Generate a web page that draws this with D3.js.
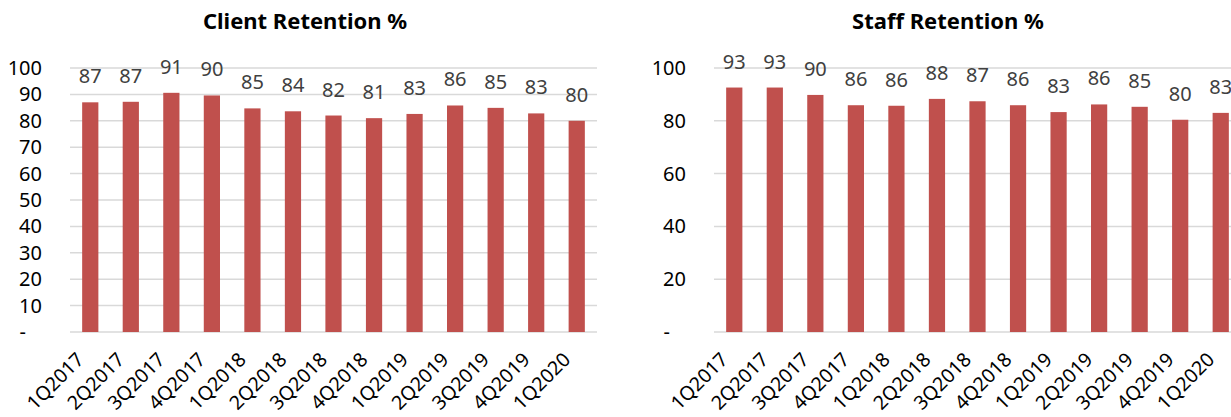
<!DOCTYPE html>
<html><head><meta charset="utf-8">
<script src="https://cdn.jsdelivr.net/npm/d3@7"></script>
<style>
body{margin:0;background:#fff;}
svg{display:block;font-family:"Noto Sans",sans-serif;}
</style></head>
<body><svg id="c" width="1231" height="417"></svg>
<script>
const categories = ["1Q2017","2Q2017","3Q2017","4Q2017","1Q2018","2Q2018","3Q2018","4Q2018","1Q2019","2Q2019","3Q2019","4Q2019","1Q2020"];
const clientRetention = [87.0, 87.2, 90.6, 89.6, 84.7, 83.6, 82.0, 81.0, 82.6, 85.8, 84.9, 82.8, 80.0];
const staffRetention = [92.6, 92.6, 89.8, 85.9, 85.7, 88.3, 87.4, 85.9, 83.3, 86.2, 85.3, 80.4, 83.0];
const clientTicks = [0,10,20,30,40,50,60,70,80,90,100];
const staffTicks = [0,20,40,60,80,100];

const svg = d3.select("#c");
const fmt = d3.format(".0f");

function drawChart(opt){
  const g = svg.append("g");
  const x = d3.scaleBand().domain(categories).range([opt.x0, opt.x0 + 527]).paddingInner(0.6).paddingOuter(0.3);
  const y = d3.scaleLinear().domain([0,100]).range([332, 68]);

  g.append("text").attr("x", opt.titleX).attr("y", 29).attr("text-anchor","middle")
    .attr("font-size", 22).attr("font-weight","bold").attr("fill","#000").text(opt.title);

  // gridlines
  g.selectAll("line.grid").data(opt.ticks).join("line")
    .attr("x1", opt.x0).attr("x2", opt.x0 + 527)
    .attr("y1", d => y(d)).attr("y2", d => y(d))
    .attr("stroke", "#d9d9d9").attr("stroke-width", 1.5);

  // y labels
  const yAxis = d3.axisLeft(y).tickValues(opt.ticks).tickSize(0).tickPadding(0)
    .tickFormat(d => d === 0 ? "-" : d);
  const ya = g.append("g").attr("transform", `translate(${opt.x0 - 28},0)`).call(yAxis);
  ya.select(".domain").remove();
  ya.selectAll("text").attr("font-size", 20).attr("fill","#000").attr("font-family","Noto Sans, sans-serif")
    .attr("dx", d => d === 0 ? -16 : 0);

  // bars
  g.selectAll("rect").data(opt.values).join("rect")
    .attr("x", (d,i) => x(categories[i])).attr("width", x.bandwidth())
    .attr("y", d => y(d)).attr("height", d => y(0) - y(d))
    .attr("fill", "#c0504d");

  // data labels
  g.selectAll("text.lbl").data(opt.values).join("text").attr("class","lbl")
    .attr("x", (d,i) => x(categories[i]) + x.bandwidth()/2)
    .attr("y", d => y(d) - 19)
    .attr("text-anchor","middle").attr("font-size", 20).attr("fill","#404040")
    .text(d => fmt(d));

  // x labels
  g.selectAll("text.xl").data(categories).join("text").attr("class","xl")
    .attr("transform", d => `translate(${x(d) + x.bandwidth()/2 - 10},${356}) rotate(-45)`)
    .attr("text-anchor","end").attr("dy","0.35em").attr("font-size", 19.5).attr("fill","#000")
    .text(d => d);
}

drawChart({x0:70, title:"Client Retention %", titleX:305, values:clientRetention, ticks:clientTicks});
drawChart({x0:714, title:"Staff Retention %", titleX:948, values:staffRetention, ticks:staffTicks});
</script></body></html>
